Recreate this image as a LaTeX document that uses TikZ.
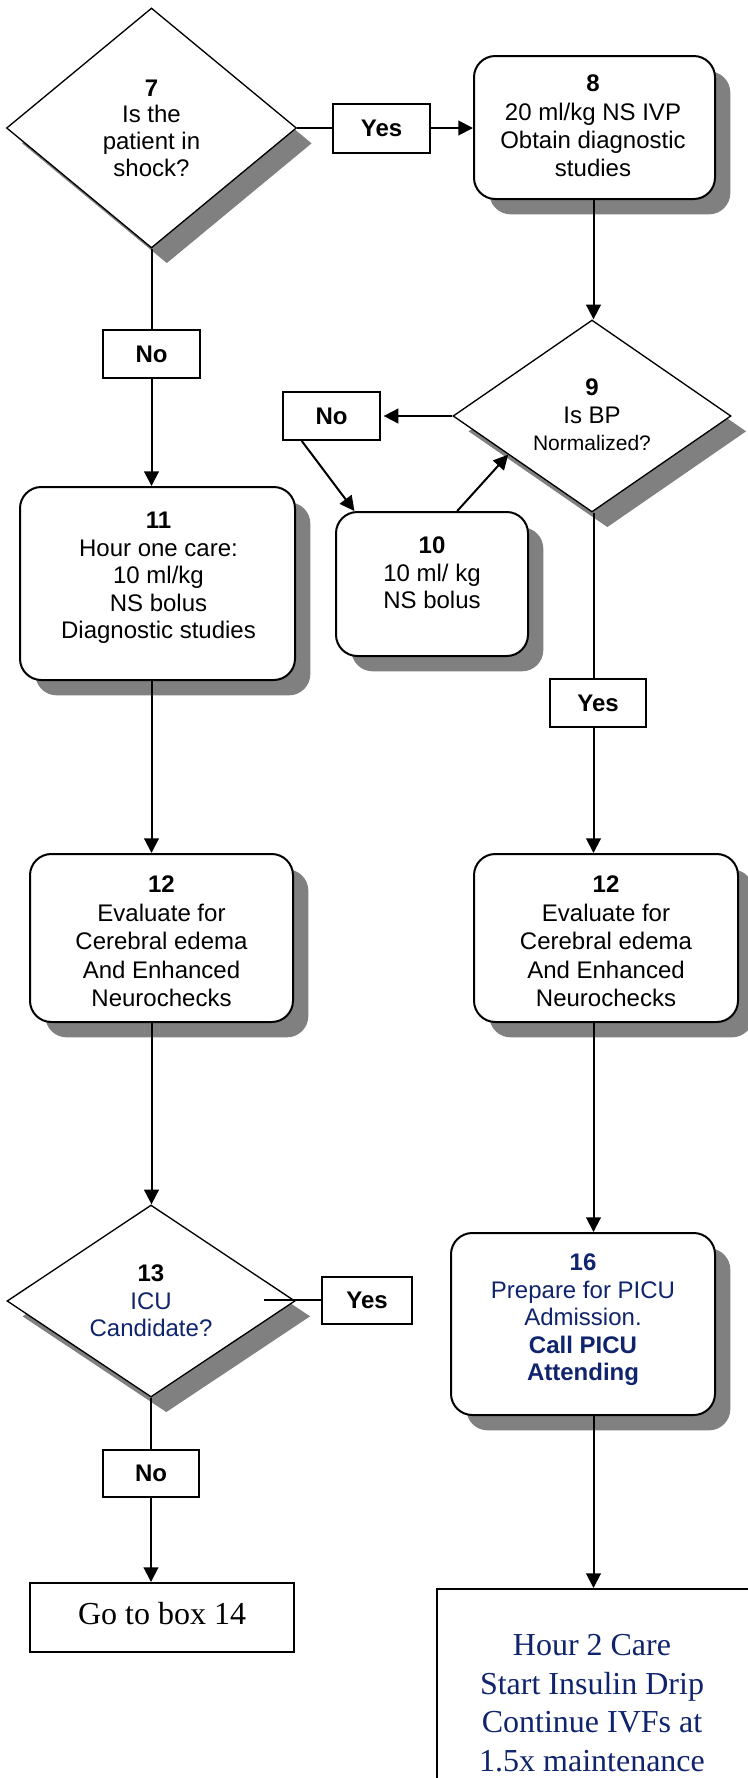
\documentclass[tikz,border=0pt]{standalone}
\usepackage{fontspec}
\setmainfont{Liberation Sans}
\newfontfamily\serfont{Liberation Serif}
\usetikzlibrary{shapes.geometric,shadows,arrows.meta,calc}
\definecolor{navyt}{RGB}{16,36,110}
\definecolor{shd}{RGB}{128,128,128}
\begin{document}
\begin{tikzpicture}[x=0.75pt,y=-0.75pt,
  txt/.style={font=\fontsize{18}{20.6}\selectfont, align=center, inner sep=0pt},
  shad/.style={drop shadow={shadow xshift=11.5pt, shadow yshift=-11.5pt, fill=shd, opacity=1}},
  rbox/.style={draw, fill=white, line width=1.5pt, rounded corners=16pt, inner sep=0pt, shad},
  dia/.style={diamond, draw, fill=white, line width=1pt, inner sep=0pt, shad},
  lab/.style={draw, fill=white, line width=1.5pt, inner sep=0pt,
    font=\bfseries\fontsize{18}{20}\selectfont},
  conn/.style={line width=1.5pt},
  arr/.style={conn, -{Triangle[length=11pt,width=11pt]}},
  sertxt/.style={font=\serfont\fontsize{24}{28.9}\selectfont, align=center, inner sep=0pt},
  sqbox/.style={draw, fill=white, line width=1.5pt, inner sep=0pt}
]
\useasboundingbox (0,0) rectangle (748,1778);
\clip (0,0) rectangle (748,1778);
\fill[white] (0,0) rectangle (748,1778);

\coordinate (cL) at (151.5,0);
\coordinate (cR) at (593.5,0);

% ---- top row
\node[dia, minimum width={290*0.75pt}, minimum height={240*0.75pt}] (d7) at (151.5,128) {};
\node[txt, font=\fontsize{18}{20}\selectfont] (t7) at (d7.center) {{\bfseries 7}\\Is the\\patient in\\shock?};
\node[lab, minimum width={97*0.75pt}, minimum height={49*0.75pt}] (yes1) at (381.5,128) {Yes};
\node[rbox, minimum width={241*0.75pt}, minimum height={143*0.75pt}] (b8) at (594.5,127.5) {};
\node[txt, font=\fontsize{18}{21.2}\selectfont] (t8) at (593,126)
  {{\bfseries 8}\\20 ml/kg NS IVP\\Obtain diagnostic\\studies};

% ---- diamond 9 and loop
\node[dia, minimum width={278*0.75pt}, minimum height={192*0.75pt}] (d9) at (592,416) {};
\node[txt] (t9) at ($(d9.center)+(0,-1)$) {{\bfseries 9}\\Is BP\\{\fontsize{15.75}{18}\selectfont Normalized?}};
\node[lab, minimum width={97*0.75pt}, minimum height={48*0.75pt}] (no2) at (331.5,416) {No};
\node[rbox, minimum width={192*0.75pt}, minimum height={144*0.75pt}] (b10) at (432,584) {};
\node[txt] (t10) at (432,573) {{\bfseries 10}\\10 ml/ kg\\NS bolus};

% ---- left column
\node[lab, minimum width={97*0.75pt}, minimum height={48*0.75pt}] (no1) at (151.5,354) {No};
\node[rbox, minimum width={275*0.75pt}, minimum height={193*0.75pt}] (b11) at (157.5,583.5) {};
\node[txt] (t11) at (158.5,578) {{\bfseries 11}\\Hour one care:\\10 ml/kg\\NS bolus\\Diagnostic studies};

% ---- right Yes
\node[lab, minimum width={96*0.75pt}, minimum height={48*0.75pt}] (yes2) at (598,703) {Yes};

% ---- boxes 12
\node[rbox, minimum width={263*0.75pt}, minimum height={168*0.75pt}] (b12l) at (161.5,938) {};
\node[txt, font=\fontsize{18}{21.4}\selectfont] (t12l) at (161.5,941.5)
  {{\bfseries 12}\\Evaluate for\\Cerebral edema\\And Enhanced\\Neurochecks};
\node[rbox, minimum width={264*0.75pt}, minimum height={168*0.75pt}] (b12r) at (606,938) {};
\node[txt, font=\fontsize{18}{21.4}\selectfont] (t12r) at (606,941.5)
  {{\bfseries 12}\\Evaluate for\\Cerebral edema\\And Enhanced\\Neurochecks};

% ---- diamond 13
\node[dia, minimum width={288*0.75pt}, minimum height={192*0.75pt}] (d13) at (151,1301) {};
\node[txt] (t13) at (d13.center) {{\bfseries 13}\\\textcolor{navyt}{ICU}\\\textcolor{navyt}{Candidate?}};
\node[lab, minimum width={90*0.75pt}, minimum height={47*0.75pt}] (yes3) at (367,1300) {Yes};
\node[lab, minimum width={96*0.75pt}, minimum height={47*0.75pt}] (no3) at (151,1473.5) {No};
\node[sqbox, minimum width={264*0.75pt}, minimum height={69*0.75pt}] (go14) at (162,1617.5) {};
\node[sertxt] (t14) at (162,1614) {Go to box 14};

% ---- box 16 and hour 2
\node[rbox, minimum width={264*0.75pt}, minimum height={182*0.75pt}] (b16) at (583,1324) {};
\node[txt, text=navyt] (t16) at (583,1320)
  {{\bfseries 16}\\Prepare for PICU\\Admission.\\{\bfseries Call PICU}\\{\bfseries Attending}};
\node[sqbox, anchor=north west, minimum width={340*0.75pt}, minimum height={250*0.75pt}] (h2) at (436,1588) {};
\node[sertxt, text=navyt] (t2) at (592,1703)
  {Hour 2 Care\\Start Insulin Drip\\Continue IVFs at\\1.5x maintenance};

% ---- connectors
\draw[conn] (d7.east) -- (yes1.west);
\draw[arr] (yes1.east) -- (yes1.east -| b8.west);
\draw[arr] (cR |- b8.south) -- (cR |- d9.north);
\draw[conn] (d7.south) -- (no1.north);
\draw[arr] (no1.south) -- (no1.south |- b11.north);
\draw[arr] (d9.west) -- ([xshift=2pt]no2.east);
\draw[arr] ($(no2.south west)!0.2!(no2.south east)$) -- ($(b10.north west)!0.1!(b10.north east)$);
\draw[arr] ($(b10.north west)!0.63!(b10.north east)$) -- ($(d9.west)!0.4!(d9.south)$);
\draw[conn] (cR |- d9.south) -- (cR |- yes2.north);
\draw[arr] (cR |- yes2.south) -- (cR |- b12r.north);
\draw[arr] (cL |- b11.south) -- (cL |- b12l.north);
\draw[arr] (cL |- b12l.south) -- (cL |- d13.north);
\coordinate (d13in) at (264,1300);
\draw[conn] (d13in) -- (yes3.west);
\draw[conn] (d13.south) -- (no3.north);
\draw[arr] (no3.south) -- (no3.south |- go14.north);
\draw[arr] (cR |- b12r.south) -- (cR |- b16.north);
\draw[arr] (cR |- b16.south) -- (cR |- h2.north);
\end{tikzpicture}
\end{document}
